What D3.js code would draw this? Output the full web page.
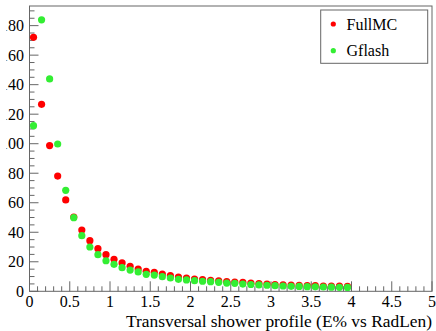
<!DOCTYPE html>
<html><head><meta charset="utf-8">
<script src="https://cdn.jsdelivr.net/npm/d3@7"></script>
<style>html,body{margin:0;padding:0;background:#fff;overflow:hidden}</style>
</head><body>
<svg id="c" width="436" height="331"></svg>
<script>
const binCenters = [0.05,0.15,0.25,0.35,0.45,0.55,0.65,0.75,0.85,0.95,1.05,1.15,1.25,1.35,1.45,1.55,1.65,1.75,1.85,1.95,2.05,2.15,2.25,2.35,2.45,2.55,2.65,2.75,2.85,2.95,3.05,3.15,3.25,3.35,3.45,3.55,3.65,3.75,3.85,3.95];
const fullMC = [172.1,126.7,98.7,78.1,61.9,50.3,41.5,34.3,28.9,24.8,21.7,19.2,16.9,15.1,13.5,12.9,11.7,10.6,9.7,9.0,8.3,7.9,7.4,7.0,6.5,6.3,6.1,5.5,5.2,4.9,4.6,4.4,4.2,4.1,3.9,3.8,3.6,3.6,3.5,3.4];
const gflash = [112.2,183.9,143.9,99.8,68.4,49.9,37.7,30.0,24.8,20.7,18.3,16.0,14.4,13.1,11.5,11.0,9.9,9.0,8.1,7.7,7.2,6.8,6.5,6.1,5.6,5.4,4.9,4.6,4.3,4.1,3.8,3.6,3.4,3.3,3.1,3.0,2.9,2.8,2.7,2.6];
const seriesNames = ["FullMC","Gflash"];
const seriesColors = ["#ff0000","#33ee33"];
const xTicks = [0,0.5,1,1.5,2,2.5,3,3.5,4,4.5,5];
const yTicks = [0,20,40,60,80,100,120,140,160,180];
const xTitle = "Transversal shower profile (E% vs RadLen)";

const svg = d3.select("#c");
const L = 29.5, R = 432, T = 6, B = 291.3;
const x = d3.scaleLinear().domain([0,5]).range([L,R]);
const y = d3.scaleLinear().domain([0,193.3]).range([B,T]);
const font = "'Liberation Serif','Times New Roman',serif";
const axisCol = "#666";

// frame
svg.append("rect").attr("x",L).attr("y",T).attr("width",R-L).attr("height",B-T)
  .attr("fill","none").attr("stroke",axisCol).attr("stroke-width",1);

// x ticks
const xMinor = d3.range(0,50.001,1).map(d=>d/10);
svg.append("g").selectAll("line").data(xMinor).join("line")
  .attr("x1",d=>x(d)).attr("x2",d=>x(d))
  .attr("y1",B).attr("y2",(d,i)=> i%5===0 ? B-10 : B-5)
  .attr("stroke",axisCol).attr("stroke-width",1);
svg.append("g").selectAll("text").data(xTicks).join("text")
  .attr("x",d=>x(d)).attr("y",306.5).attr("text-anchor","middle")
  .attr("font-family",font).attr("font-size",16).attr("fill","#000")
  .text(d=>d3.format("~g")(d));

// y ticks
const yMinor = d3.range(0,193.3,5);
svg.append("g").selectAll("line").data(yMinor).join("line")
  .attr("x1",L).attr("x2",(d,i)=> i%4===0 ? L+9 : L+5)
  .attr("y1",d=>y(d)).attr("y2",d=>y(d))
  .attr("stroke",axisCol).attr("stroke-width",1);
svg.append("clipPath").attr("id","yclip").append("rect")
  .attr("x",6.2).attr("y",0).attr("width",30).attr("height",331);
svg.append("g").attr("clip-path","url(#yclip)").selectAll("text").data(yTicks).join("text")
  .attr("x",24).attr("y",d=>y(d)).attr("dy","0.35em").attr("text-anchor","end")
  .attr("font-family",font).attr("font-size",16).attr("fill","#000")
  .text(d=>d);

// x title
svg.append("text").attr("x",R).attr("y",327).attr("text-anchor","end")
  .attr("font-family",font).attr("font-size",17.4).attr("fill","#000").text(xTitle);

// data
[fullMC, gflash].forEach((vals,si)=>{
  svg.append("g").selectAll("circle").data(vals).join("circle")
    .attr("cx",(d,i)=>x(binCenters[i])).attr("cy",d=>y(d)).attr("r",3.6)
    .attr("fill",seriesColors[si]);
});

// legend
const lg = svg.append("g");
lg.append("rect").attr("x",320.7).attr("y",10).attr("width",107).attr("height",53.3)
  .attr("fill","#fff").attr("stroke",axisCol).attr("stroke-width",1);
seriesNames.forEach((n,i)=>{
  const cy = 24 + i*26.7;
  lg.append("circle").attr("cx",333.3).attr("cy",cy).attr("r",2.6).attr("fill",seriesColors[i]);
  lg.append("text").attr("x",346.5).attr("y",cy).attr("dy","0.35em")
    .attr("font-family",font).attr("font-size",16).attr("fill","#000").text(n);
});
</script>
</body></html>
